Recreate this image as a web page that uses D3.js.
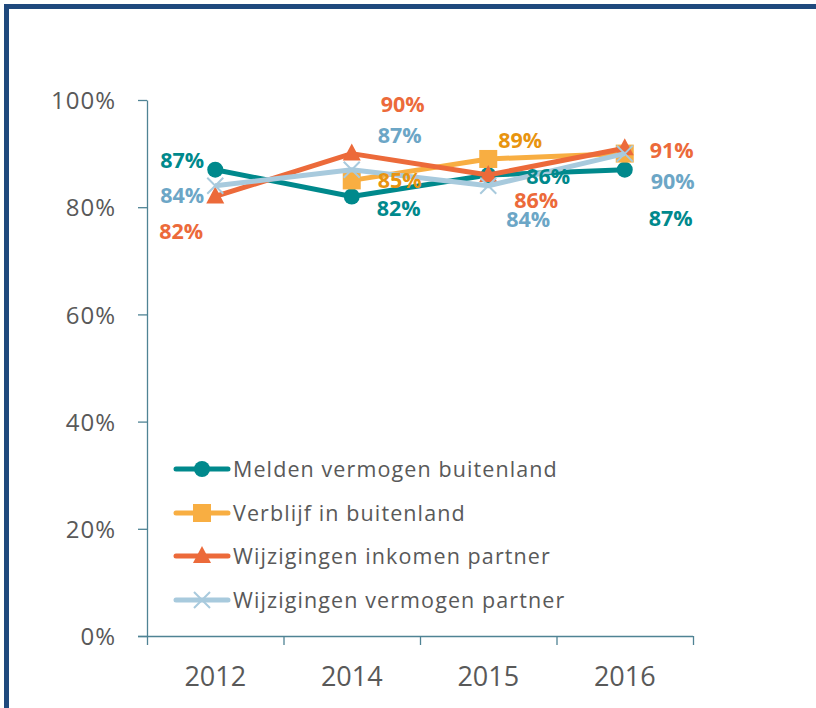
<!DOCTYPE html>
<html><head><meta charset="utf-8">
<script src="https://cdn.jsdelivr.net/npm/d3@7/dist/d3.min.js"></script>
<style>body{margin:0;background:#fff}svg{display:block}</style>
</head><body>
<svg id="c" width="816" height="708"></svg>
<script>
const categories = ["2012", "2014", "2015", "2016"];
const yTicks = [0, 0.2, 0.4, 0.6, 0.8, 1.0];
const seriesNames = ["Melden vermogen buitenland", "Verblijf in buitenland", "Wijzigingen inkomen partner", "Wijzigingen vermogen partner"];
const meldenValues = [0.87, 0.82, 0.86, 0.87];
const verblijfValues = [null, 0.85, 0.89, 0.90];
const inkomenValues = [0.82, 0.90, 0.86, 0.91];
const vermogenValues = [0.84, 0.87, 0.84, 0.90];

// label placement offsets (dx, dy relative to the point), null = hidden
const labelPlacement = [
  [[-33,-9],[47,12],[60,1],[46,49]],
  [null,[48,0],[32,-18],null],
  [[-34,35],[51,-49],[48,25],[47,2]],
  [[-33,10],[48,-34],[40,34],[48,28]]
];

const styles = [
  {line:"#00898C", label:"#00898C", marker:"circle"},
  {line:"#F8AE42", label:"#E8940F", marker:"square"},
  {line:"#EC6A3A", label:"#EC6A3A", marker:"triangle"},
  {line:"#A8CADD", label:"#6CA6C6", marker:"cross"}
];
const allValues = [meldenValues, verblijfValues, inkomenValues, vermogenValues];

const svg = d3.select("#c");
// frame
svg.append("path").attr("d","M6.5,720 V6.5 H830").attr("fill","none").attr("stroke","#1F497D").attr("stroke-width",5);

const x = d3.scaleBand().domain(categories).range([147, 693]);
const y = d3.scaleLinear().domain([0,1]).range([636, 100]);
const cx = c => x(c) + x.bandwidth()/2;

const axisColor = "#4F8394";
const textGray = "#595959";
const font = "'Open Sans', sans-serif";

// y axis
const ya = svg.append("g").attr("transform","translate(147,0)")
  .call(d3.axisLeft(y).tickValues(yTicks).tickFormat(d3.format(".0%")).tickSize(9).tickSizeOuter(0));
ya.select(".domain").attr("stroke",axisColor).attr("stroke-width",1.3);
ya.selectAll(".tick line").attr("stroke",axisColor).attr("stroke-width",1.3);
ya.selectAll(".tick text").attr("fill",textGray).style("font-family",font).style("font-size","24px")
  .style("letter-spacing","1px").attr("x",-31).attr("dy","0.36em");

// x axis
const xa = svg.append("g").attr("transform","translate(0,636)")
  .call(d3.axisBottom(x).tickSize(0).tickSizeOuter(0));
xa.select(".domain").attr("stroke",axisColor).attr("stroke-width",1.3).attr("d","M138,0.5H693");
xa.selectAll(".tick text").attr("fill",textGray).style("font-family",font).style("font-size","27px")
  .attr("y",40).attr("dy","0.36em");
const bounds = categories.map(c => x(c)).concat([x.range()[1]]);
xa.selectAll(".bt").data(bounds).enter().append("line").attr("class","bt")
  .attr("x1",d=>d+0.5).attr("x2",d=>d+0.5).attr("y1",0).attr("y2",9).attr("stroke",axisColor).attr("stroke-width",1.3);

function drawMarker(g, type, px, py, color){
  if(type==="circle") g.append("circle").attr("cx",px).attr("cy",py).attr("r",8).attr("fill",color);
  else if(type==="square") g.append("rect").attr("x",px-9).attr("y",py-9).attr("width",18).attr("height",18).attr("fill",color);
  else if(type==="triangle") g.append("path").attr("d",`M${px},${py-10} L${px+9},${py+7} L${px-9},${py+7}Z`).attr("fill",color);
  else if(type==="cross") { const s=8; g.append("path").attr("d",`M${px-s},${py-s} L${px+s},${py+s} M${px-s},${py+s} L${px+s},${py-s}`).attr("stroke",color).attr("stroke-width",2).attr("fill","none"); }
}

const line = d3.line().defined(d=>d.v!=null).x(d=>cx(d.c)).y(d=>y(d.v));
const plot = svg.append("g");
allValues.forEach((vals,i)=>{
  const pts = vals.map((v,j)=>({c:categories[j], v}));
  plot.append("path").datum(pts).attr("d",line).attr("fill","none").attr("stroke",styles[i].line).attr("stroke-width",5).attr("stroke-linejoin","round");
  pts.forEach(p=>{ if(p.v!=null) drawMarker(plot, styles[i].marker, cx(p.c), y(p.v), styles[i].line); });
});

// data labels
const labels = svg.append("g");
allValues.forEach((vals,i)=>{
  vals.forEach((v,j)=>{
    const pl = labelPlacement[i][j];
    if(v==null || !pl) return;
    labels.append("text").attr("x",cx(categories[j])+pl[0]).attr("y",y(v)+pl[1]).attr("dy","0.35em")
      .attr("text-anchor","middle").attr("fill",styles[i].label).style("font-family",font)
      .style("font-size","21.5px").style("font-weight","bold").text(d3.format(".0%")(v));
  });
});

// legend
const lg = svg.append("g");
const legendY = [469, 513, 556, 600];
seriesNames.forEach((n,i)=>{
  const ly = legendY[i];
  lg.append("line").attr("x1",176).attr("x2",228).attr("y1",ly).attr("y2",ly).attr("stroke",styles[i].line).attr("stroke-width",5).attr("stroke-linecap","round");
  drawMarker(lg, styles[i].marker, 202, ly, styles[i].line);
  lg.append("text").attr("x",233).attr("y",ly).attr("dy","0.38em").attr("fill",textGray).style("font-family",font)
    .style("font-size","21.5px").style("letter-spacing","1.1px").text(n);
});
</script>
</body></html>
